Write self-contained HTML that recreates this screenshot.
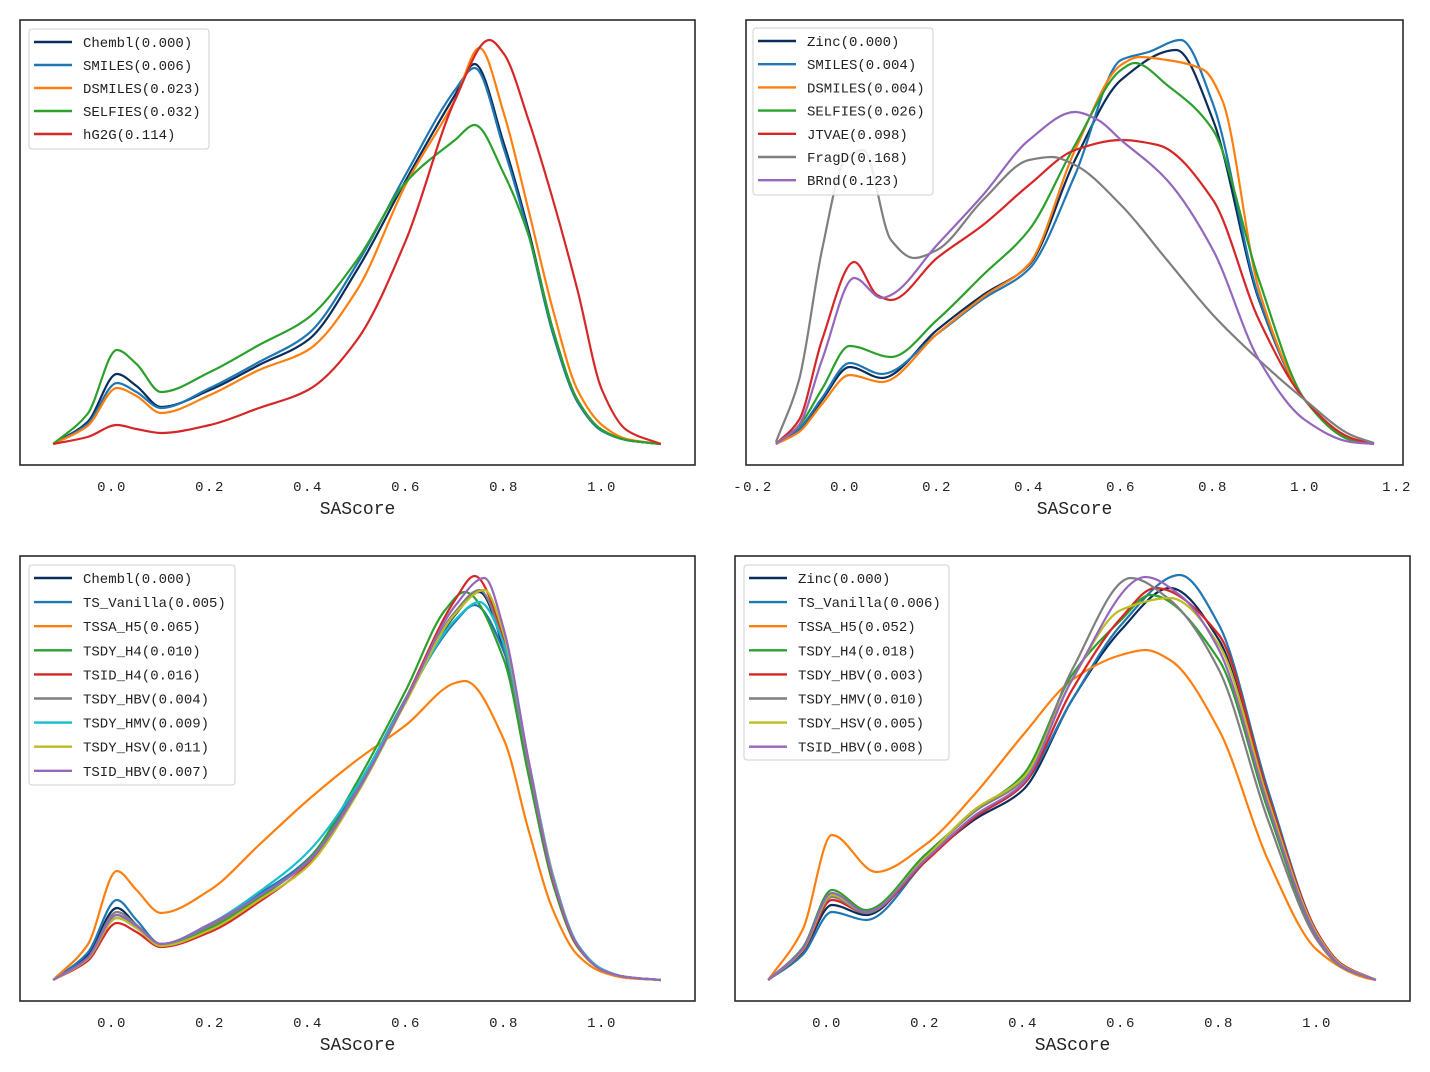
<!DOCTYPE html>
<html><head><meta charset="utf-8"><style>
html,body{margin:0;padding:0;background:#fff;}
svg{display:block;}
text{font-family:"Liberation Mono","WenQuanYi Zen Hei",monospace;fill:#222;}
</style></head><body>
<svg id="chart" width="1430" height="1072" viewBox="0 0 1430 1072" xmlns="http://www.w3.org/2000/svg"></svg>
<script>
// ---------- Panel 1 data (x, density) ----------
const p1Labels = ["Chembl(0.000)","SMILES(0.006)","DSMILES(0.023)","SELFIES(0.032)","hG2G(0.114)"];
const p1Chembl  = [[-0.12,0],[-0.05,0.22],[0.01,0.70],[0.05,0.58],[0.1,0.37],[0.2,0.54],[0.3,0.79],[0.4,1.04],[0.5,1.74],[0.6,2.64],[0.7,3.49],[0.74,3.80],[0.8,3.00],[0.85,2.14],[0.9,1.14],[0.95,0.44],[1.0,0.14],[1.05,0.04],[1.12,0]];
const p1Smiles  = [[-0.12,0],[-0.05,0.20],[0.01,0.61],[0.05,0.52],[0.1,0.36],[0.2,0.56],[0.3,0.82],[0.4,1.10],[0.5,1.80],[0.6,2.70],[0.7,3.54],[0.74,3.76],[0.8,2.95],[0.85,2.10],[0.9,1.10],[0.95,0.42],[1.0,0.13],[1.05,0.04],[1.12,0]];
const p1Dsmiles = [[-0.12,0],[-0.05,0.18],[0.01,0.56],[0.05,0.48],[0.1,0.31],[0.2,0.49],[0.3,0.74],[0.4,0.94],[0.5,1.54],[0.6,2.60],[0.7,3.44],[0.75,3.96],[0.8,3.30],[0.85,2.34],[0.9,1.34],[0.95,0.54],[1.0,0.19],[1.05,0.05],[1.12,0]];
const p1Selfies = [[-0.12,0],[-0.05,0.30],[0.01,0.94],[0.05,0.80],[0.1,0.52],[0.2,0.72],[0.3,0.99],[0.4,1.26],[0.5,1.84],[0.6,2.62],[0.7,3.04],[0.74,3.19],[0.8,2.70],[0.85,2.09],[0.9,1.14],[0.95,0.44],[1.0,0.14],[1.05,0.04],[1.12,0]];
const p1Hg2g    = [[-0.12,0],[-0.05,0.07],[0.01,0.19],[0.05,0.15],[0.1,0.11],[0.2,0.19],[0.3,0.36],[0.4,0.54],[0.5,1.04],[0.6,2.04],[0.7,3.44],[0.77,4.04],[0.8,3.90],[0.85,3.24],[0.9,2.44],[0.95,1.54],[1.0,0.54],[1.05,0.14],[1.12,0]];

// ---------- Panel 2 data ----------
const p2Labels = ["Zinc(0.000)","SMILES(0.004)","DSMILES(0.004)","SELFIES(0.026)","JTVAE(0.098)","FragD(0.168)","BRnd(0.123)"];
const p2Zinc    = [[-0.15,0],[-0.1,0.14],[-0.05,0.44],[0.01,0.77],[0.08,0.66],[0.2,1.14],[0.3,1.49],[0.4,1.79],[0.5,2.84],[0.6,3.64],[0.72,3.94],[0.8,3.24],[0.9,1.44],[1.0,0.44],[1.1,0.04],[1.15,0]];
const p2Smiles  = [[-0.15,0],[-0.1,0.15],[-0.05,0.46],[0.01,0.81],[0.08,0.70],[0.2,1.10],[0.3,1.45],[0.4,1.75],[0.5,2.69],[0.6,3.84],[0.66,3.92],[0.73,4.04],[0.8,3.40],[0.9,1.46],[1.0,0.44],[1.1,0.04],[1.15,0]];
const p2Dsmiles = [[-0.15,0],[-0.1,0.12],[-0.05,0.40],[0.01,0.69],[0.08,0.62],[0.2,1.10],[0.3,1.47],[0.4,1.80],[0.5,2.94],[0.6,3.79],[0.64,3.87],[0.7,3.84],[0.78,3.74],[0.82,3.44],[0.9,1.54],[1.0,0.44],[1.1,0.04],[1.15,0]];
const p2Selfies = [[-0.15,0],[-0.1,0.18],[-0.05,0.55],[0.01,0.98],[0.1,0.87],[0.2,1.24],[0.3,1.69],[0.4,2.14],[0.5,2.99],[0.6,3.74],[0.63,3.81],[0.7,3.59],[0.8,3.14],[0.9,1.64],[1.0,0.44],[1.1,0.04],[1.15,0]];
const p2Jtvae   = [[-0.15,0],[-0.1,0.24],[-0.05,1.04],[0.02,1.82],[0.07,1.49],[0.1,1.44],[0.2,1.86],[0.3,2.19],[0.4,2.59],[0.5,2.94],[0.6,3.04],[0.68,2.99],[0.8,2.44],[0.9,1.24],[1.0,0.44],[1.1,0.06],[1.15,0]];
const p2Fragd   = [[-0.15,0.02],[-0.1,0.64],[-0.05,1.94],[0.0,2.84],[0.04,2.94],[0.1,2.04],[0.15,1.86],[0.2,1.94],[0.3,2.44],[0.4,2.84],[0.45,2.87],[0.5,2.79],[0.6,2.39],[0.7,1.84],[0.8,1.29],[0.9,0.84],[1.0,0.44],[1.1,0.09],[1.15,0.01]];
const p2Brnd    = [[-0.15,0],[-0.1,0.19],[-0.05,0.84],[0.02,1.66],[0.08,1.46],[0.1,1.49],[0.2,1.99],[0.3,2.49],[0.4,3.04],[0.5,3.32],[0.55,3.24],[0.6,3.04],[0.7,2.64],[0.8,1.94],[0.9,0.84],[1.0,0.24],[1.1,0.02],[1.15,0]];

// ---------- Panel 3 data ----------
const p3Labels = ["Chembl(0.000)","TS_Vanilla(0.005)","TSSA_H5(0.065)","TSDY_H4(0.010)","TSID_H4(0.016)","TSDY_HBV(0.004)","TSDY_HMV(0.009)","TSDY_HSV(0.011)","TSID_HBV(0.007)"];
const p3Chembl  = [[-0.12,0],[-0.05,0.25],[0.01,0.72],[0.05,0.55],[0.1,0.35],[0.2,0.55],[0.3,0.85],[0.4,1.20],[0.5,1.90],[0.6,2.80],[0.7,3.65],[0.75,3.88],[0.8,3.30],[0.85,2.10],[0.9,1.00],[0.95,0.35],[1.0,0.10],[1.05,0.03],[1.12,0]];
const p3Vanilla = [[-0.12,0],[-0.05,0.27],[0.01,0.80],[0.05,0.60],[0.1,0.36],[0.2,0.56],[0.3,0.86],[0.4,1.21],[0.5,1.92],[0.6,2.82],[0.7,3.58],[0.74,3.75],[0.8,3.28],[0.85,2.12],[0.9,1.00],[0.95,0.35],[1.0,0.10],[1.05,0.03],[1.12,0]];
const p3Tssa    = [[-0.12,0],[-0.05,0.35],[0.01,1.09],[0.05,0.90],[0.1,0.67],[0.2,0.90],[0.3,1.35],[0.4,1.80],[0.5,2.20],[0.6,2.55],[0.7,2.97],[0.72,2.99],[0.8,2.40],[0.85,1.50],[0.9,0.70],[0.95,0.25],[1.0,0.08],[1.05,0.02],[1.12,0]];
const p3Dyh4    = [[-0.12,0],[-0.05,0.22],[0.01,0.65],[0.05,0.52],[0.1,0.36],[0.2,0.52],[0.3,0.82],[0.4,1.20],[0.5,1.98],[0.6,2.90],[0.68,3.70],[0.72,3.88],[0.8,3.20],[0.85,2.05],[0.9,0.96],[0.95,0.33],[1.0,0.10],[1.05,0.03],[1.12,0]];
const p3Idh4    = [[-0.12,0],[-0.05,0.19],[0.01,0.57],[0.05,0.48],[0.1,0.33],[0.2,0.48],[0.3,0.78],[0.4,1.16],[0.5,1.88],[0.6,2.82],[0.7,3.80],[0.74,4.04],[0.8,3.40],[0.85,2.15],[0.9,1.00],[0.95,0.34],[1.0,0.10],[1.05,0.03],[1.12,0]];
const p3Dyhbv   = [[-0.12,0],[-0.05,0.22],[0.01,0.68],[0.05,0.55],[0.1,0.36],[0.2,0.54],[0.3,0.84],[0.4,1.19],[0.5,1.90],[0.6,2.82],[0.7,3.68],[0.75,3.90],[0.8,3.34],[0.85,2.14],[0.9,1.01],[0.95,0.35],[1.0,0.10],[1.05,0.03],[1.12,0]];
const p3Dyhmv   = [[-0.12,0],[-0.05,0.21],[0.01,0.62],[0.05,0.52],[0.1,0.36],[0.2,0.56],[0.3,0.88],[0.4,1.28],[0.5,1.94],[0.6,2.80],[0.7,3.60],[0.75,3.78],[0.8,3.36],[0.85,2.20],[0.9,1.05],[0.95,0.36],[1.0,0.11],[1.05,0.03],[1.12,0]];
const p3Dyhsv   = [[-0.12,0],[-0.05,0.21],[0.01,0.62],[0.05,0.52],[0.1,0.34],[0.2,0.50],[0.3,0.80],[0.4,1.14],[0.5,1.86],[0.6,2.78],[0.7,3.66],[0.76,3.90],[0.8,3.45],[0.85,2.20],[0.9,1.03],[0.95,0.35],[1.0,0.10],[1.05,0.03],[1.12,0]];
const p3Idhbv   = [[-0.12,0],[-0.05,0.22],[0.01,0.65],[0.05,0.54],[0.1,0.36],[0.2,0.56],[0.3,0.84],[0.4,1.18],[0.5,1.88],[0.6,2.80],[0.7,3.74],[0.76,4.02],[0.8,3.50],[0.85,2.20],[0.9,1.02],[0.95,0.35],[1.0,0.10],[1.05,0.03],[1.12,0]];

// ---------- Panel 4 data ----------
const p4Labels = ["Zinc(0.000)","TS_Vanilla(0.006)","TSSA_H5(0.052)","TSDY_H4(0.018)","TSDY_HBV(0.003)","TSDY_HMV(0.010)","TSDY_HSV(0.005)","TSID_HBV(0.008)"];
const p4Zinc    = [[-0.12,0],[-0.05,0.28],[0.01,0.75],[0.08,0.65],[0.2,1.20],[0.3,1.60],[0.4,1.90],[0.5,2.80],[0.6,3.50],[0.7,3.92],[0.8,3.40],[0.9,1.80],[1.0,0.45],[1.05,0.15],[1.12,0]];
const p4Vanilla = [[-0.12,0],[-0.05,0.25],[0.01,0.68],[0.08,0.60],[0.2,1.18],[0.3,1.62],[0.4,1.95],[0.5,2.80],[0.6,3.55],[0.72,4.05],[0.8,3.55],[0.9,1.90],[1.0,0.48],[1.05,0.16],[1.12,0]];
const p4Tssa    = [[-0.12,0],[-0.05,0.50],[0.01,1.45],[0.1,1.08],[0.2,1.35],[0.3,1.85],[0.4,2.45],[0.5,3.00],[0.6,3.25],[0.65,3.30],[0.7,3.20],[0.8,2.50],[0.9,1.20],[1.0,0.30],[1.1,0.02],[1.12,0]];
const p4Dyh4    = [[-0.12,0],[-0.05,0.32],[0.01,0.90],[0.08,0.70],[0.2,1.25],[0.3,1.68],[0.4,2.05],[0.5,3.05],[0.6,3.60],[0.66,3.85],[0.8,3.20],[0.9,1.70],[1.0,0.42],[1.05,0.14],[1.12,0]];
const p4Dyhbv   = [[-0.12,0],[-0.05,0.29],[0.01,0.80],[0.08,0.67],[0.2,1.18],[0.3,1.62],[0.4,1.95],[0.5,2.90],[0.6,3.62],[0.67,3.92],[0.8,3.45],[0.9,1.85],[1.0,0.48],[1.05,0.16],[1.12,0]];
const p4Dyhmv   = [[-0.12,0],[-0.05,0.30],[0.01,0.83],[0.08,0.67],[0.2,1.22],[0.3,1.68],[0.4,2.00],[0.5,3.10],[0.62,4.02],[0.7,3.80],[0.8,3.10],[0.9,1.60],[1.0,0.40],[1.05,0.13],[1.12,0]];
const p4Dyhsv   = [[-0.12,0],[-0.05,0.30],[0.01,0.85],[0.08,0.68],[0.2,1.22],[0.3,1.70],[0.4,2.02],[0.5,3.00],[0.6,3.70],[0.7,3.82],[0.8,3.35],[0.9,1.80],[1.0,0.46],[1.05,0.15],[1.12,0]];
const p4Idhbv   = [[-0.12,0],[-0.05,0.31],[0.01,0.87],[0.08,0.68],[0.2,1.20],[0.3,1.64],[0.4,1.97],[0.5,3.00],[0.65,4.03],[0.72,3.85],[0.8,3.30],[0.9,1.75],[1.0,0.44],[1.05,0.14],[1.12,0]];

const p1Ticks = ["0.0","0.2","0.4","0.6","0.8","1.0"];
const p2Ticks = ["-0.2","0.0","0.2","0.4","0.6","0.8","1.0","1.2"];

const NAVY="#0b2d5b",BLUE="#1f77b4",ORANGE="#ff7f0e",GREEN="#2ca02c",RED="#d62728",PURPLE="#9467bd",GRAY="#7f7f7f",OLIVE="#bcbd22",CYAN="#17becf";
const NS="http://www.w3.org/2000/svg";
const svg=document.getElementById('chart');
function el(tag,attrs,parent){const e=document.createElementNS(NS,tag);for(const k in attrs)e.setAttribute(k,attrs[k]);(parent||svg).appendChild(e);return e;}

// monotone-X cubic interpolation (smooth, no kinks for uneven spacing)
function smoothPath(pts){
  const n=pts.length, m=new Array(n), d=[];
  for(let i=0;i<n-1;i++) d.push((pts[i+1][1]-pts[i][1])/(pts[i+1][0]-pts[i][0]));
  m[0]=d[0]; m[n-1]=d[n-2];
  for(let i=1;i<n-1;i++){
    if(d[i-1]*d[i]<=0) m[i]=0;
    else{
      const h0=pts[i][0]-pts[i-1][0],h1=pts[i+1][0]-pts[i][0];
      const w1=2*h1+h0,w2=h1+2*h0;
      m[i]=(w1+w2)/(w1/d[i-1]+w2/d[i]);
    }
  }
  let s="M"+pts[0][0].toFixed(2)+","+pts[0][1].toFixed(2);
  for(let i=0;i<n-1;i++){
    const h=(pts[i+1][0]-pts[i][0])/3;
    s+=" C"+(pts[i][0]+h).toFixed(2)+","+(pts[i][1]+m[i]*h).toFixed(2)+" "+(pts[i+1][0]-h).toFixed(2)+","+(pts[i+1][1]-m[i+1]*h).toFixed(2)+" "+pts[i+1][0].toFixed(2)+","+pts[i+1][1].toFixed(2);
  }
  return s;
}

function panel(cfg){
  const g=el('g',{});
  
  
  const xs=v=>cfg.x0+v*cfg.kx;
  const ys=v=>cfg.base-v*100;
  cfg.series.forEach((s,i)=>{
    const pts=s.data.map(p=>[xs(p[0]),Math.min(cfg.base,ys(p[1]))]);
    const p=el('path',{d:smoothPath(pts),fill:"none",stroke:s.color,"stroke-width":2.2,"stroke-linejoin":"round"},g);
    
    
  });
  const fr=el('rect',{x:cfg.fx,y:cfg.fy,width:cfg.fw,height:cfg.fh,fill:"none",stroke:"#2a2a2a","stroke-width":1.6},g);
  
  
  cfg.ticks.forEach(t=>{
    const tx=el('text',{x:xs(parseFloat(t)),y:cfg.fy+cfg.fh+26,"font-size":14,"text-anchor":"middle","letter-spacing":"1.5"},g);
    tx.textContent=t;
    
    
  });
  const xl=el('text',{x:cfg.fx+cfg.fw/2,y:cfg.fy+cfg.fh+49,"font-size":18,"text-anchor":"middle"},g);
  xl.textContent="SAScore";
  
  
  const L=cfg.legend;
  const lg=el('g',{},g);
  
  
  el('rect',{x:L.x,y:L.y,width:L.w,height:L.h,rx:3,fill:"#fff","fill-opacity":0.85,stroke:"#d0d0d0","stroke-width":1},lg);
  cfg.series.forEach((s,i)=>{
    const ry=L.y+13+i*L.dy;
    const e=el('g',{},lg);
    
    
    el('line',{x1:L.x+5,x2:L.x+43,y1:ry,y2:ry,stroke:s.color,"stroke-width":2.4},e);
    const t=el('text',{x:L.x+54,y:ry+5,"font-size":14},e);
    t.textContent=cfg.labels[i];
  });
}

panel({name:"panel-top-left",x0:112,kx:490,base:444,fx:20,fy:20,fw:675,fh:445,ticks:p1Ticks,labels:p1Labels,
  legend:{x:29,y:29,w:180,h:120,dy:23},
  series:[{key:"chembl",data:p1Chembl,color:NAVY},{key:"smiles",data:p1Smiles,color:BLUE},{key:"dsmiles",data:p1Dsmiles,color:ORANGE},{key:"selfies",data:p1Selfies,color:GREEN},{key:"hg2g",data:p1Hg2g,color:RED}]});
panel({name:"panel-top-right",x0:845,kx:460,base:444,fx:746,fy:20,fw:657,fh:445,ticks:p2Ticks,labels:p2Labels,
  legend:{x:753,y:28,w:180,h:167,dy:23.2},
  series:[{key:"zinc",data:p2Zinc,color:NAVY},{key:"smiles",data:p2Smiles,color:BLUE},{key:"dsmiles",data:p2Dsmiles,color:ORANGE},{key:"selfies",data:p2Selfies,color:GREEN},{key:"jtvae",data:p2Jtvae,color:RED},{key:"fragd",data:p2Fragd,color:GRAY},{key:"brnd",data:p2Brnd,color:PURPLE}]});
panel({name:"panel-bottom-left",x0:112,kx:490,base:980,fx:20,fy:556,fw:675,fh:445,ticks:p1Ticks,labels:p3Labels,
  legend:{x:29,y:565,w:206,h:220,dy:24.1},
  series:[{key:"chembl",data:p3Chembl,color:NAVY},{key:"ts-vanilla",data:p3Vanilla,color:BLUE},{key:"tssa-h5",data:p3Tssa,color:ORANGE},{key:"tsdy-h4",data:p3Dyh4,color:GREEN},{key:"tsid-h4",data:p3Idh4,color:RED},{key:"tsdy-hbv",data:p3Dyhbv,color:GRAY},{key:"tsdy-hmv",data:p3Dyhmv,color:CYAN},{key:"tsdy-hsv",data:p3Dyhsv,color:OLIVE},{key:"tsid-hbv",data:p3Idhbv,color:PURPLE}]});
panel({name:"panel-bottom-right",x0:827,kx:490,base:980,fx:735,fy:556,fw:675,fh:445,ticks:p1Ticks,labels:p4Labels,
  legend:{x:744,y:565,w:205,h:195,dy:24.1},
  series:[{key:"zinc",data:p4Zinc,color:NAVY},{key:"ts-vanilla",data:p4Vanilla,color:BLUE},{key:"tssa-h5",data:p4Tssa,color:ORANGE},{key:"tsdy-h4",data:p4Dyh4,color:GREEN},{key:"tsdy-hbv",data:p4Dyhbv,color:RED},{key:"tsdy-hmv",data:p4Dyhmv,color:GRAY},{key:"tsdy-hsv",data:p4Dyhsv,color:OLIVE},{key:"tsid-hbv",data:p4Idhbv,color:PURPLE}]});
</script>
</body></html>
